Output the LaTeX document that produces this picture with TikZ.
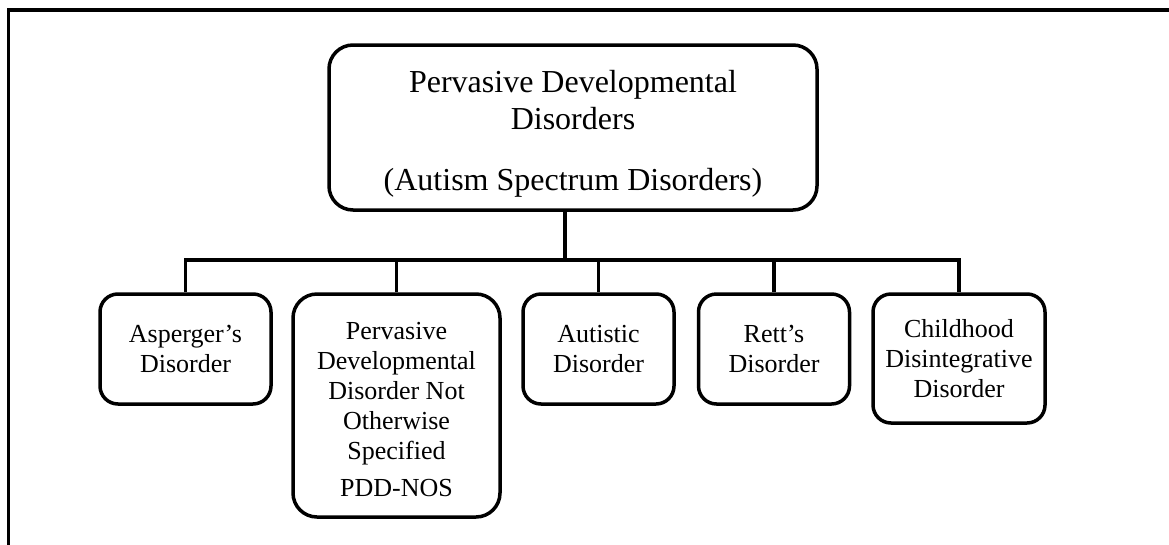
\documentclass[tikz,border=0pt]{standalone}
\usepackage{fontspec}
\setmainfont{Liberation Serif}
\usetikzlibrary{calc}
\begin{document}
\begin{tikzpicture}[x=1pt,y=-1pt,
  box/.style={draw, line width=3.5pt, rounded corners=18pt, inner sep=0pt, align=center,
              font=\fontsize{26}{30}\selectfont},
  topbox/.style={box, rounded corners=24pt, font=\fontsize{32}{37}\selectfont},
  link/.style={line width=3.5pt}]
\useasboundingbox (0,0) rectangle (1169,544);
\fill[white] (0,0) rectangle (1169,544);
% outer frame (only left and top edges visible)
\draw[line width=3.5pt] (8.5,560) -- (8.5,10) -- (1180,10);
\node[topbox, minimum width=488pt, minimum height=165pt] (top) at (573,127.5)
  {\rule{0pt}{34pt}Pervasive Developmental\\Disorders\\[24pt](Autism Spectrum Disorders)};
\node[box, minimum width=171pt, minimum height=110pt] (asp) at (185.5,349)
  {Asperger’s\\Disorder};
\node[box, rounded corners=24pt, minimum width=207pt, minimum height=223pt] (pdd) at (396.5,405.5)
  {\rule{0pt}{26pt}Pervasive\\Developmental\\Disorder Not\\Otherwise\\Specified\\[7pt]PDD-NOS};
\node[box, minimum width=151pt, minimum height=110pt] (aut) at (598.5,349)
  {Autistic\\Disorder};
\node[box, minimum width=151pt, minimum height=110pt] (rett) at (774,349)
  {Rett’s\\Disorder};
\node[box, minimum width=172pt, minimum height=129pt] (cdd) at (959,358.5)
  {Childhood\\Disintegrative\\Disorder};
\coordinate (bus) at (565,260);
\draw[link] ($(top.south)+(-8,0)$) -- (bus);
\draw[link] (asp.north) -- (asp.north|-bus) -- (cdd.north|-bus) -- (cdd.north);
\draw[link] (pdd.north) -- (pdd.north|-bus);
\draw[link] (aut.north) -- (aut.north|-bus);
\draw[link] (rett.north) -- (rett.north|-bus);
\end{tikzpicture}
\end{document}
